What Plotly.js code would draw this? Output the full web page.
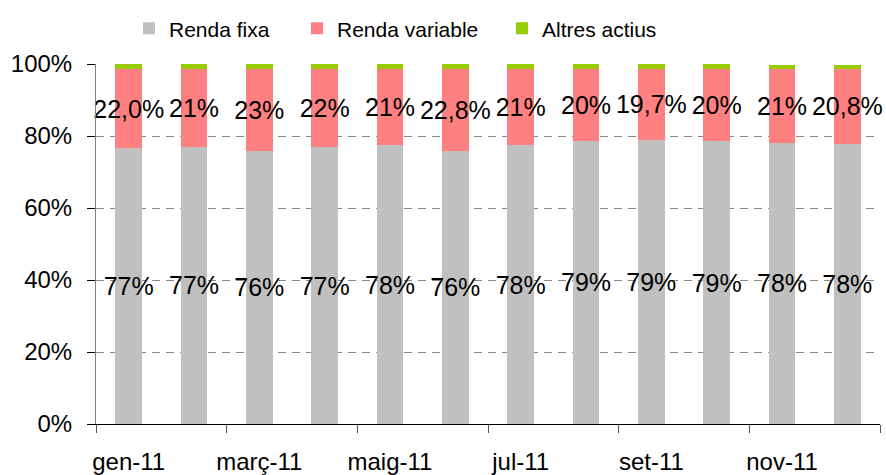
<!DOCTYPE html>
<html>
<head>
<meta charset="utf-8">
<script src="https://cdn.plot.ly/plotly-3.0.1.min.js"></script>
<style>html,body{margin:0;padding:0;background:#fff;}#chart{width:886px;height:475px;}</style>
</head>
<body>
<div id="chart"></div>
<script>
const months = ['gen-11','febr-11','març-11','abr-11','maig-11','juny-11','jul-11','ag-11','set-11','oct-11','nov-11','des-11'];
const shownMonths = ['gen-11','març-11','maig-11','jul-11','set-11','nov-11'];
const rendaFixa = [76.6, 77.0, 75.9, 76.9, 77.4, 75.9, 77.4, 78.7, 79.0, 78.5, 78.1, 77.9];
const rendaVariable = [22.0, 21.5, 22.6, 21.6, 21.1, 22.8, 21.1, 19.8, 19.7, 20.0, 20.5, 20.8];
const altresActius = [1.4, 1.5, 1.5, 1.5, 1.5, 1.3, 1.5, 1.5, 1.3, 1.5, 1.1, 1.0];
const fixaLabels = ['77%','77%','76%','77%','78%','76%','78%','79%','79%','79%','78%','78%'];
const variableLabels = ['22,0%','21%','23%','22%','21%','22,8%','21%','20%','19,7%','20%','21%','20,8%'];
const yTicks = [0, 20, 40, 60, 80, 100];
const yTickLabels = ['0%', '20%', '40%', '60%', '80%', '100%'];
const boundaryTicks = [-0.5, 1.5, 3.5, 5.5, 7.5, 9.5, 11.5];

const FONT = 'Liberation Sans, Arial, sans-serif';

const common = {
  type: 'bar', x: months, textposition: 'inside', insidetextanchor: 'middle',
  constraintext: 'none',
  textangle: 0, textfont: {family: FONT, size: 25, color: '#000'},
  insidetextfont: {family: FONT, size: 25, color: '#000'}, cliponaxis: false,
  hoverinfo: 'x+y'
};
const traces = [
  Object.assign({}, common, {name: 'Renda fixa', y: rendaFixa, text: fixaLabels, marker: {color: '#C0C0C0'}, legend: 'legend'}),
  Object.assign({}, common, {name: 'Renda variable', y: rendaVariable, text: variableLabels, marker: {color: '#FF8080'}, legend: 'legend2'}),
  Object.assign({}, common, {name: 'Altres actius', y: altresActius, marker: {color: '#99CC00'}, legend: 'legend3'}),
  // carrier for the boundary tick axis (draws nothing)
  {type: 'scatter', x: [boundaryTicks[0], boundaryTicks[boundaryTicks.length - 1]], y: [0, 0],
   xaxis: 'x2', yaxis: 'y', mode: 'none', showlegend: false, hoverinfo: 'skip'}
];

function px2paper(px){ return (px - 96) / 784; }
const legBase = {orientation: 'h', yanchor: 'middle', y: 1.098, xanchor: 'left',
  font: {family: FONT, size: 21, color: '#000'}, bgcolor: 'rgba(0,0,0,0)', borderwidth: 0};

const layout = {
  width: 886, height: 475,
  margin: {l: 96, r: 6, t: 64, b: 51},
  paper_bgcolor: '#fff', plot_bgcolor: '#fff',
  barmode: 'stack', bargap: 0.587,
  font: {family: FONT, size: 24, color: '#000'},
  showlegend: true,
  legend: Object.assign({}, legBase, {x: px2paper(129)}),
  legend2: Object.assign({}, legBase, {x: px2paper(297)}),
  legend3: Object.assign({}, legBase, {x: px2paper(502)}),
  xaxis: {
    type: 'category', categoryorder: 'array', categoryarray: months,
    tickmode: 'array', tickvals: shownMonths, ticktext: shownMonths,
    ticks: '', showline: true, linecolor: '#000', linewidth: 1,
    showgrid: false, zeroline: false,
    tickfont: {family: FONT, size: 24, color: '#000'},
    ticklabelstandoff: 16, fixedrange: true
  },
  xaxis2: {
    overlaying: 'x', anchor: 'y', side: 'bottom', range: [-0.5, 11.5],
    tickmode: 'array', tickvals: boundaryTicks, showticklabels: false,
    ticks: 'outside', ticklen: 8, tickcolor: '#555', tickwidth: 1,
    showline: false, showgrid: false, zeroline: false, fixedrange: true
  },
  yaxis: {
    range: [0, 100], tickmode: 'array', tickvals: yTicks, ticktext: yTickLabels,
    ticks: 'outside', ticklen: 8, tickcolor: '#000', tickwidth: 1,
    showline: true, linecolor: '#808080', linewidth: 1,
    showgrid: true, gridcolor: '#888', gridwidth: 1, griddash: '8px,6px',
    zeroline: false, tickfont: {family: FONT, size: 24, color: '#000'},
    ticklabelstandoff: 10, fixedrange: true
  }
};

Plotly.newPlot('chart', traces, layout, {displayModeBar: false, staticPlot: true});
</script>
</body>
</html>
